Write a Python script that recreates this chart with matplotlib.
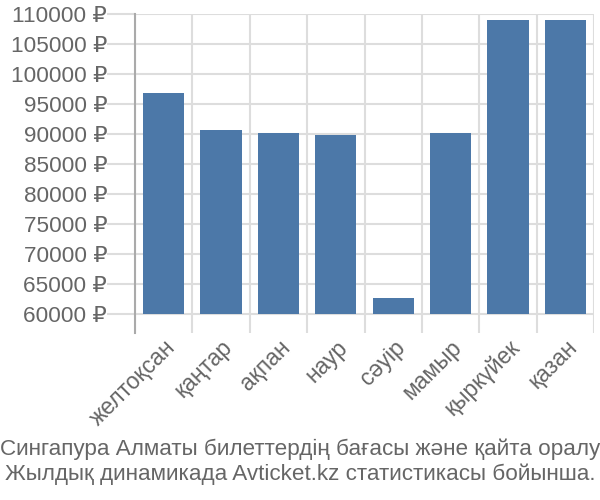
import matplotlib
matplotlib.use("Agg")
import matplotlib.pyplot as plt
import numpy as np

# Daten
months = ["желтоқсан", "қаңтар", "ақпан", "наур", "сәуір", "мамыр", "қыркүйек", "қазан"]
prices = [96900, 90700, 90100, 89900, 62700, 90100, 109000, 109000]
yticks = [60000, 65000, 70000, 75000, 80000, 85000, 90000, 95000, 100000, 105000, 110000]
caption = ["Сингапура Алматы билеттердің бағасы және қайта оралу",
           "Жылдық динамикада Avticket.kz статистикасы бойынша."]

BAR, GRID, TEXT, AXIS = "#4c78a8", "#dddddd", "#666666", "#aaaaaa"

plt.rcParams["font.family"] = ["Liberation Sans", "DejaVu Sans"]

fig = plt.figure(figsize=(6, 5), dpi=100)
ax = fig.add_axes([0.225, 0.334, 0.765, 0.638])

x = np.arange(len(months))
base = yticks[0]
ax.bar(x, [p - base for p in prices], bottom=base, width=0.72, color=BAR, zorder=3)

ax.set_xlim(-0.5, len(months) - 0.5)
ax.set_ylim(56800, 110000)
ax.set_yticks(yticks)
ax.set_yticklabels([f"{v} ₽" for v in yticks], color=TEXT, fontsize=16.2)
ax.set_xticks(x)
ax.set_xticklabels(months, rotation=45, ha="right", rotation_mode="anchor",
                   color=TEXT, fontsize=16.5)
ax.set_xticks(np.arange(len(months) + 1) - 0.5, minor=True)

ax.grid(axis="y", which="major", color=GRID, linewidth=1.5, zorder=0)
ax.grid(axis="x", which="minor", color=GRID, linewidth=1.5, zorder=0)
ax.tick_params(axis="y", length=20, width=1.5, color=GRID, pad=0)
ax.tick_params(axis="x", which="major", length=0, pad=2)
ax.tick_params(axis="x", which="minor", length=0)

for s in ["top", "right", "bottom"]:
    ax.spines[s].set_visible(False)
ax.spines["left"].set_color(AXIS)
ax.spines["left"].set_linewidth(1.5)

fig.text(0.5, 0.102, caption[0], ha="center", va="center", color=TEXT, fontsize=16.2)
fig.text(0.5, 0.052, caption[1], ha="center", va="center", color=TEXT, fontsize=16.2)

fig.savefig("out.png", dpi=100, facecolor="white")
